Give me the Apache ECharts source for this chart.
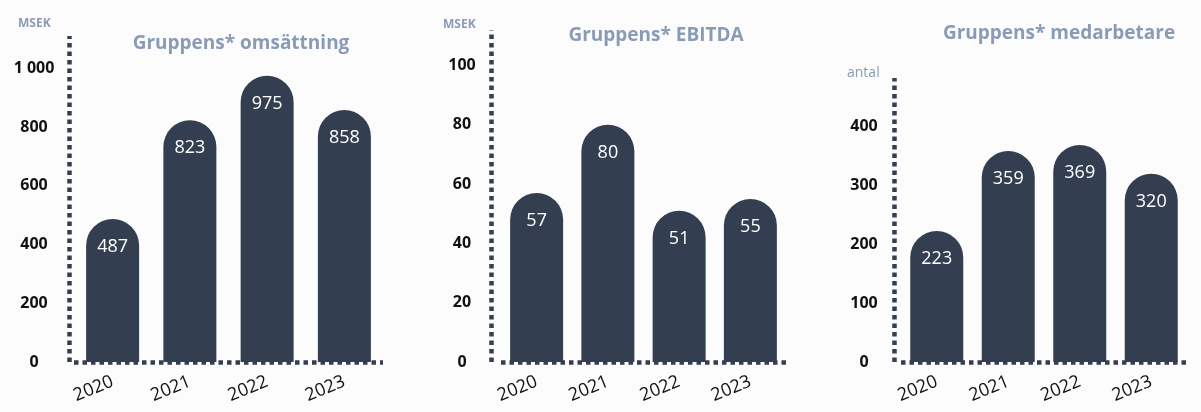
<!DOCTYPE html>
<html lang="sv">
<head>
    <meta charset="UTF-8">
    <title>Gruppens nyckeltal</title>
    <script src="https://cdn.jsdelivr.net/npm/echarts@6/dist/echarts.min.js"></script>
    <style>
        body { margin: 0; background: #fcfcfd; }
        #chart { width: 1201px; height: 412px; }
    </style>
</head>
<body>
    <div id="chart"></div>
    <script>
        // data
        const years = ['2020', '2021', '2022', '2023'];
        const omsattning = [487, 823, 975, 858];
        const ebitda = [57, 80, 51, 55];
        const medarbetare = [223, 359, 369, 320];

        const titles = ['Gruppens* omsättning', 'Gruppens* EBITDA', 'Gruppens* medarbetare'];
        const units = ['MSEK', 'MSEK', 'antal'];

        const barColor = '#343e51';
        const dotLine = { show: true, lineStyle: { color: barColor, width: 4.5, type: [4.5, 4], cap: 'butt' } };
        const font = '"Open Sans", sans-serif';

        // per-panel layout: grid, y axis settings
        const panels = [
            { data: omsattning, left: 74, width: 309, top: 36, max: 1110, step: 200, labelMax: 1000, yOff: 5, lblGap: 35 },
            { data: ebitda, left: 501, width: 285, top: 30, max: 112, step: 20, labelMax: 100, yOff: 10, lblGap: 29 },
            { data: medarbetare, left: 901, width: 286, top: 78, max: 483, step: 100, labelMax: 400, yOff: 7, lblGap: 30 }
        ];

        const chart = echarts.init(document.getElementById('chart'));

        const fmt = v => String(v).replace(/\B(?=(\d{3})+(?!\d))/g, ' ');

        chart.setOption({
            backgroundColor: '#fcfcfd',
            title: [
                { text: titles[0], left: 236, top: 29, textAlign: 'center' },
                { text: titles[1], left: 651, top: 21, textAlign: 'center' },
                { text: titles[2], left: 1054, top: 19, textAlign: 'center' },
                { text: units[0], left: 13, top: 13, textStyle: { fontSize: 12 } },
                { text: units[1], left: 438, top: 14, textStyle: { fontSize: 12 } },
                { text: units[2], left: 842, top: 61, textStyle: { fontSize: 14, fontWeight: 'normal' } }
            ].map(t => ({
                ...t,
                textStyle: Object.assign({ color: '#8a9bb6', fontSize: 19, fontWeight: 'bold', fontFamily: font }, t.textStyle)
            })),
            grid: panels.map(p => ({ left: p.left, width: p.width, top: p.top, bottom: 50 })),
            xAxis: panels.map((p, i) => ({
                type: 'category',
                gridIndex: i,
                data: years,
                offset: 4,
                axisLine: dotLine,
                axisTick: { show: false },
                axisLabel: {
                    rotate: 22,
                    margin: 15,
                    color: '#111',
                    fontSize: 18,
                    fontFamily: font
                }
            })),
            yAxis: panels.map((p, i) => ({
                type: 'value',
                gridIndex: i,
                min: 0,
                max: p.max,
                interval: p.step,
                offset: p.yOff,
                axisLine: dotLine,
                axisTick: { show: false },
                splitLine: { show: false },
                axisLabel: {
                    margin: p.lblGap,
                    align: 'center',
                    color: '#111',
                    fontSize: 16,
                    fontWeight: 'bold',
                    fontFamily: font,
                    formatter: v => v > p.labelMax ? '' : fmt(v)
                }
            })),
            series: panels.map((p, i) => ({
                type: 'bar',
                xAxisIndex: i,
                yAxisIndex: i,
                data: p.data,
                barWidth: 53,
                itemStyle: { color: barColor, borderRadius: [26.5, 26.5, 0, 0] },
                label: {
                    show: true,
                    position: 'insideTop',
                    distance: 19,
                    color: '#fff',
                    fontSize: 18,
                    fontFamily: font
                }
            }))
        });
    </script>
</body>
</html>
